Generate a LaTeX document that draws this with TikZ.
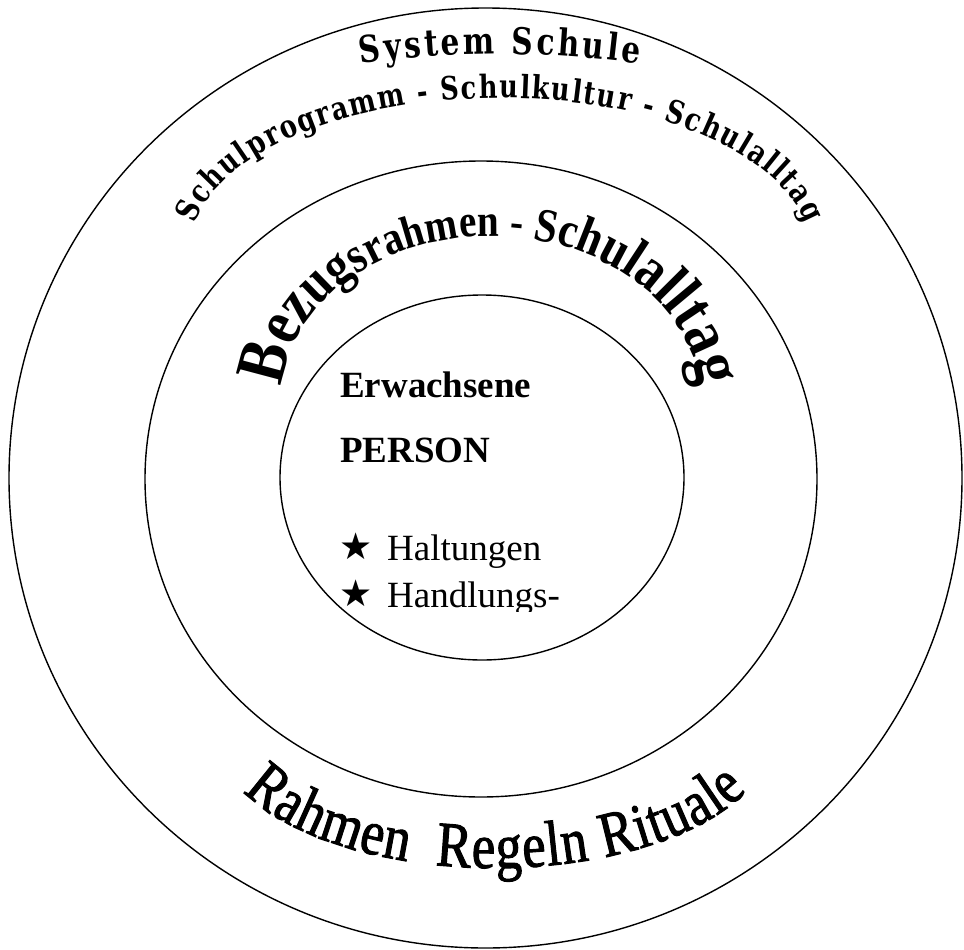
\documentclass[tikz,border=0pt]{standalone}
\usepackage{fontspec}
\setmainfont{Liberation Serif}
\newfontfamily\slabfont[NFSSFamily=slab,FakeStretch=0.8]{DejaVu Serif}
\newfontfamily\archfont[NFSSFamily=arch,FakeStretch=0.85]{Liberation Serif}
\newfontfamily\bannerfont[NFSSFamily=banner,FakeStretch=0.82,FakeBold=1.5]{Liberation Serif}
\newfontfamily\starfont[NFSSFamily=starsym]{DejaVu Sans}
\usetikzlibrary{decorations.text}
\newcommand{\fsz}[1]{\fontsize{#1}{#1}\selectfont}
\newcommand{\bz}[1]{\fontfamily{arch}\bfseries\fsz{#1}}

\begin{document}
\begin{tikzpicture}[x=1pt,y=-1pt]
        \tikzset{
            ring/.style={draw=black,line width=1.4pt},
            person/.style={anchor=base west,inner sep=0pt,font=\fsz{37}}
        }
        \useasboundingbox (0,0) rectangle (964,950);

        \coordinate (outerC) at (485.5,478);
        \coordinate (middleC) at (481,479);
        \coordinate (innerC) at (482,477.5);
        \draw[ring] (outerC) ellipse [x radius=476.5,y radius=470];
        \draw[ring] (middleC) ellipse [x radius=336,y radius=318];
        \draw[ring] (innerC) ellipse [x radius=202,y radius=182.5];

        % arched texts
        \coordinate (sysC) at (500,1054);
        \path[decorate,decoration={text along path,text align=fit to path,
            text={|\fontfamily{slab}\bfseries\fsz{37}|System Schule}}]
            (sysC) ++(262:1000) arc[start angle=262,end angle=278,radius=1000];

        \coordinate (progC) at (500,250);
        \path[decorate,decoration={text along path,text align=fit to path,
            text={|\fontfamily{slab}\bfseries\fsz{32}|Schulprogramm - Schulkultur - Schulalltag}}]
            (progC) ++(190:310 and 152) arc[start angle=190,end angle=350,x radius=310,y radius=152];

        \coordinate (bezC) at (491,401);
        \path[decorate,decoration={text along path,text align=fit to path,
            text={|\bz{70}|B|\bz{66}|e|\bz{62}|z|\bz{58}|u|\bz{54}|g|\bz{51}|s|\bz{49}|r|\bz{47}|a|\bz{46}|hmen - |\bz{48}|S|\bz{50}|c|\bz{52}|h|\bz{55}|u|\bz{57}|l|\bz{60}|a|\bz{62}|l|\bz{64}|l|\bz{66}|t|\bz{67}|a|\bz{68}|g}}]
            (bezC) ++(185:210 and 165) arc[start angle=185,end angle=355,x radius=210,y radius=165];

        \coordinate (ritC) at (495,735);
        \path[decorate,decoration={text along path,text align=fit to path,
            text={|\fontfamily{banner}\fsz{64}|Rahmen{\ \ }Regeln Rituale}}]
            (ritC) ++(155:278 and 133) arc[start angle=155,end angle=25,x radius=278,y radius=133];

        % inside the person
        \node[person,font=\fsz{37}\bfseries] (erw) at (340,397) {Erwachsene};
        \node[person,font=\fsz{37}\bfseries] (pers) at (340,462) {PERSON};
        \node[person,font=\starfont\fsz{37}] (star1) at (339,559) {★};
        \node[person] (halt) at (387,560) {Haltungen};
        \begin{scope}
            \clip (330,570) rectangle (620,611);
            \node[person,font=\starfont\fsz{37}] (star2) at (339,606) {★};
            \node[person] (hand) at (387,607) {Handlungs-};
        \end{scope}

    \end{tikzpicture}
\end{document}
